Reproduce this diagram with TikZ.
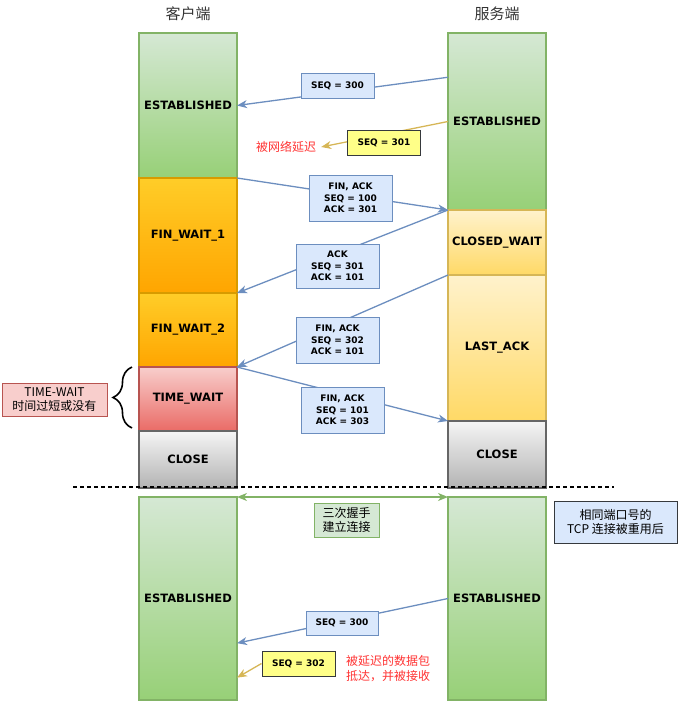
\documentclass[tikz,border=0pt]{standalone}
\usepackage{fontspec}
\setmainfont{DejaVu Sans}
\newfontfamily\cjk{Noto Sans CJK SC}
\usepackage{xcolor}
\definecolor{gline}{HTML}{82B366}
\definecolor{gtop}{HTML}{D5E8D4}
\definecolor{gbot}{HTML}{97D077}
\definecolor{oline}{HTML}{D79B00}
\definecolor{otop}{HTML}{FFCD28}
\definecolor{obot}{HTML}{FFA500}
\definecolor{yline}{HTML}{D6B656}
\definecolor{ytop}{HTML}{FFF2CC}
\definecolor{ybot}{HTML}{FFD966}
\definecolor{rline}{HTML}{B85450}
\definecolor{rtop}{HTML}{F8CECC}
\definecolor{rbot}{HTML}{EA6B66}
\definecolor{kline}{HTML}{666666}
\definecolor{ktop}{HTML}{F5F5F5}
\definecolor{kbot}{HTML}{B3B3B3}
\definecolor{bline}{HTML}{6C8EBF}
\definecolor{bfill}{HTML}{DAE8FC}
\definecolor{lfill}{HTML}{FFFF88}
\definecolor{dline}{HTML}{36393D}
\definecolor{latered}{HTML}{FF3333}
\usetikzlibrary{arrows.meta,positioning,calc,decorations.pathreplacing}

\begin{document}
\begin{tikzpicture}[
  x=1pt,y=-1pt,
  state/.style={rectangle,draw,line width=1.2pt,minimum width=98pt,inner sep=0pt,outer sep=0pt,font=\fontsize{11.5}{13}\selectfont\bfseries},
  estbox/.style={state,draw=gline,top color=gtop,bottom color=gbot},
  fwbox/.style={state,draw=oline,top color=otop,bottom color=obot},
  waitbox/.style={state,draw=yline,top color=ytop,bottom color=ybot},
  twbox/.style={state,draw=rline,top color=rtop,bottom color=rbot},
  closebox/.style={state,draw=kline,top color=ktop,bottom color=kbot},
  msg/.style={rectangle,draw=bline,fill=bfill,line width=1pt,align=center,inner sep=1pt,font=\fontsize{9}{11.5}\selectfont\bfseries},
  lostbox/.style={rectangle,draw=dline,fill=lfill,line width=1pt,minimum width=73pt,minimum height=25pt,font=\fontsize{9}{11}\selectfont\bfseries},
  msgarrow/.style={-{Stealth[length=10pt,width=8pt,inset=3pt]},draw=bline,line width=1.3pt},
  latearrow/.style={-{Stealth[length=10pt,width=8pt,inset=3pt]},draw=yline,line width=1.3pt},
  synarrow/.style={{Stealth[length=10pt,width=8pt,inset=3pt]}-{Stealth[length=10pt,width=8pt,inset=3pt]},draw=gline,line width=1.3pt},
  late/.style={text=latered,inner sep=5pt,font=\cjk\fontsize{12}{15}\selectfont},
  title/.style={text=black!80,font=\cjk\fontsize{15}{18}\selectfont},
  note/.style={rectangle,line width=1pt,align=center,font=\cjk\fontsize{12}{14.5}\selectfont}
]
  \useasboundingbox (0,0) rectangle (686,707);

  % Titles
  \node[title] (cTitle) at (188,14) {客户端};
  \node[title] (sTitle) at (497,14) {服务端};

  % Client states
  \node[estbox,minimum height=145,anchor=north] (cEst1) at (188,33) {ESTABLISHED};
  \node[fwbox,minimum height=115,below=0pt of cEst1] (cFw1) {FIN\_WAIT\_1};
  \node[fwbox,minimum height=74,below=0pt of cFw1] (cFw2) {FIN\_WAIT\_2};
  \node[twbox,minimum height=64,below=0pt of cFw2] (cTw) {TIME\_WAIT};
  \node[closebox,minimum height=57,below=0pt of cTw] (cClose) {CLOSE};

  % Server states
  \node[estbox,minimum height=177,anchor=north] (sEst1) at (497,33) {ESTABLISHED};
  \node[waitbox,minimum height=65,below=0pt of sEst1] (sCw) {CLOSED\_WAIT};
  \node[waitbox,minimum height=146,below=0pt of sCw] (sLa) {LAST\_ACK};
  \node[closebox,minimum height=67,below=0pt of sLa] (sClose) {CLOSE};

  % Reused connection
  \node[estbox,minimum height=203,anchor=north] (cEst2) at (188,497) {ESTABLISHED};
  \node[estbox,minimum height=203,anchor=north] (sEst2) at (497,497) {ESTABLISHED};

  \draw[line width=1.5pt,dash pattern=on 4pt off 3pt] (73,487) -- (614,487);

  % Packets
  \draw[msgarrow] ($(sEst1.north west)!0.25!(sEst1.south west)$) -- (cEst1.east);
  \node[msg,minimum width=73,minimum height=25] (m1) at (337.5,85.5) {SEQ = 300};

  \node[late] (lateTxt) at (286,147) {被网络延迟};
  \draw[latearrow] (sEst1.west) -- (lateTxt.east);
  \node[lostbox] (y1) at (384,143) {SEQ = 301};

  \draw[msgarrow] (cFw1.north east) -- (sCw.north west);
  \node[msg,minimum width=83,minimum height=46] (m2) at (350.5,198) {FIN, ACK\\SEQ = 100\\ACK = 301};

  \draw[msgarrow] (sCw.north west) -- (cFw2.north east);
  \node[msg,minimum width=83,minimum height=44] (m3) at (337.5,266) {ACK\\SEQ = 301\\ACK = 101};

  \draw[msgarrow] (sLa.north west) -- (cTw.north east);
  \node[msg,minimum width=83,minimum height=46] (m4) at (337.5,340) {FIN, ACK\\SEQ = 302\\ACK = 101};

  \draw[msgarrow] (cTw.north east) -- (sClose.north west);
  \node[msg,minimum width=83,minimum height=46] (m5) at (342.5,410) {FIN, ACK\\SEQ = 101\\ACK = 303};

  % TIME-WAIT note
  \draw[line width=1.6pt,decorate,decoration={brace,amplitude=19pt}] ($(cTw.south west)+(-7,-3)$) -- ($(cTw.north west)+(-7,0)$);
  \node[note,draw=rline,fill=rtop,minimum width=105,minimum height=33] (twNote) at (54.5,399.5) {TIME-WAIT\\时间过短或没有};

  % Handshake and delayed packet
  \draw[synarrow] (cEst2.north east) -- (sEst2.north west);
  \node[note,draw=gline,fill=gtop,inner sep=2pt,minimum width=65,minimum height=34] (hs) at (346.5,520) {三次握手\\建立连接};
  \node[note,draw=dline,fill=bfill,minimum width=123,minimum height=42] (reuse) at (615.5,522) {相同端口号的\\TCP 连接被重用后};

  \draw[msgarrow] (sEst2.west) -- ($(cEst2.north east)!0.72!(cEst2.south east)$);
  \node[msg,minimum width=72,minimum height=24] (m6) at (342,623) {SEQ = 300};

  \node[lostbox] (y2) at (298.5,663.5) {SEQ = 302};
  \draw[latearrow] (y2.west) -- ($(cEst2.north east)!0.89!(cEst2.south east)$);
  \node[late,align=left,inner sep=0pt] (arrTxt) at (388,669) {被延迟的数据包\\抵达，并被接收};
\end{tikzpicture}
\end{document}
